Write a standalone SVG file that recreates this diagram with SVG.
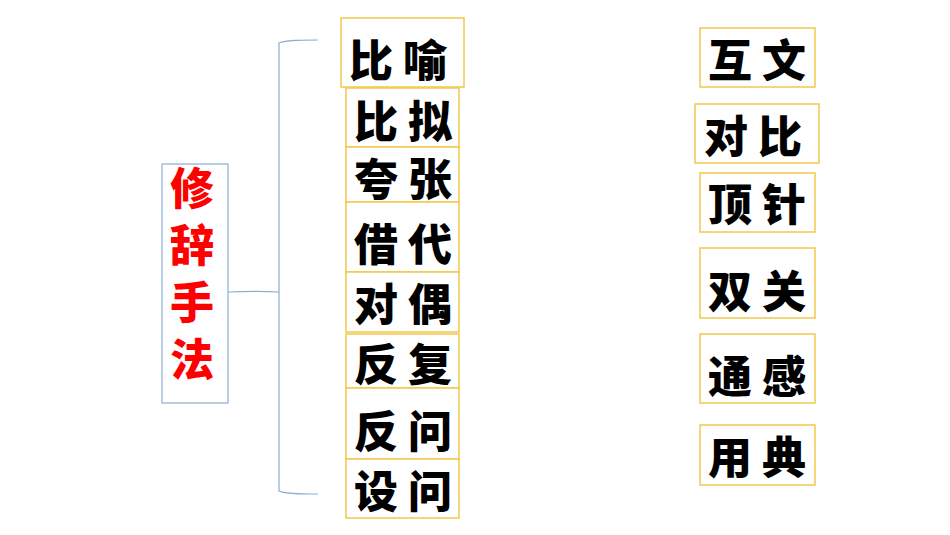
<svg xmlns="http://www.w3.org/2000/svg" width="950" height="535" viewBox="0 0 950 535">
<style>
.y{fill:#fff;stroke:#f2c84b;stroke-width:1.5}
.b{fill:#fff;stroke:#8aaed4;stroke-width:1.2}
.t{font-family:"Noto Sans CJK SC","Noto Sans",sans-serif;font-weight:900;font-size:44px;text-anchor:middle;dominant-baseline:central;fill:#000}
.v{font-family:"Noto Sans CJK SC","Noto Sans",sans-serif;font-weight:900;font-size:44px;writing-mode:vertical-rl;letter-spacing:13px;fill:#ff0000}
.c{fill:none;stroke:#8aaed4;stroke-width:1.2}
</style>
<rect width="950" height="535" fill="#fff"/>
<g id="connectors">
<path class="c" d="M228,292 C250,291 262,291 279,292 M318,40 C300,40 286,40 279,43 L279,491 C286,494 300,494 318,494"/>
</g>
<g id="root"><rect class="b" x="162" y="164" width="66" height="239"/>
<text class="v" x="192" y="166">修辞手法</text></g>
<g id="n1"><rect class="y" x="341" y="18" width="123" height="69"/><text class="t" x="398" y="58">比 喻</text></g>
<g id="n2"><rect class="y" x="346" y="88" width="113" height="59"/><text class="t" x="403" y="119">比 拟</text></g>
<g id="n3"><rect class="y" x="346" y="147" width="113" height="55"/><text class="t" x="403" y="177">夸 张</text></g>
<g id="n4"><rect class="y" x="346" y="202" width="113" height="70"/><text class="t" x="403" y="242">借 代</text></g>
<g id="n5"><rect class="y" x="346" y="272" width="113" height="60"/><text class="t" x="403" y="302">对 偶</text></g>
<g id="n6"><rect class="y" x="346" y="334" width="113" height="54"/><text class="t" x="403" y="362">反 复</text></g>
<g id="n7"><rect class="y" x="346" y="388" width="113" height="71"/><text class="t" x="403" y="429">反 问</text></g>
<g id="n8"><rect class="y" x="346" y="459" width="113" height="59"/><text class="t" x="403" y="489">设 问</text></g>
<g id="m1"><rect class="y" x="700" y="28" width="115" height="59"/><text class="t" x="757" y="58">互 文</text></g>
<g id="m2"><rect class="y" x="695" y="104" width="124" height="59"/><text class="t" x="753" y="134">对 比</text></g>
<g id="m3"><rect class="y" x="700" y="173" width="115" height="59"/><text class="t" x="757" y="202">顶 针</text></g>
<g id="m4"><rect class="y" x="700" y="248" width="115" height="70"/><text class="t" x="757" y="289">双 关</text></g>
<g id="m5"><rect class="y" x="700" y="334" width="115" height="69"/><text class="t" x="757" y="374">通 感</text></g>
<g id="m6"><rect class="y" x="700" y="425" width="115" height="60"/><text class="t" x="757" y="455">用 典</text></g>
</svg>
